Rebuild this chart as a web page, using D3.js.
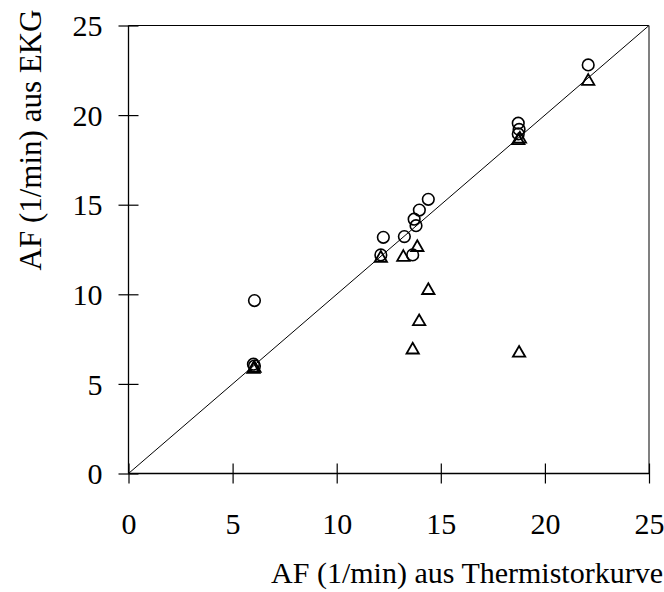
<!DOCTYPE html>
<html>
<head>
<meta charset="utf-8">
<script src="https://cdn.jsdelivr.net/npm/d3@7"></script>
<style>
  body { margin: 0; background: #fff; }
  svg { display: block; }
  text { font-family: "Liberation Serif", "Times New Roman", serif; fill: #000; }
</style>
</head>
<body>
<svg id="chart" width="664" height="592"></svg>
<script>
// ---- data ----
const xTicks = [0, 5, 10, 15, 20, 25];
const yTicks = [0, 5, 10, 15, 20, 25];
const xTitle = "AF (1/min) aus Thermistorkurve";
const yTitle = "AF (1/min) aus EKG";

// circles series
const circleX = [6.0, 6.05, 6.05, 12.12, 12.24, 13.25, 13.65, 13.72, 13.81, 13.97, 14.4, 18.72, 18.76, 18.72, 22.08];
const circleY = [6.1, 6.0, 9.65, 12.2, 13.18, 13.22, 12.2, 14.19, 13.83, 14.7, 15.3, 19.55, 19.2, 18.95, 22.8];

// triangles series
const triX = [6.0, 6.05, 12.12, 13.2, 13.87, 14.4, 13.96, 13.65, 18.76, 18.72, 18.8, 22.08];
const triY = [5.9, 5.95, 12.1, 12.15, 12.7, 10.3, 8.56, 6.98, 6.8, 18.66, 18.75, 21.97];

// identity line
const lineX = [0, 25];
const lineY = [0, 25];

// ---- chart ----
const svg = d3.select("#chart");
const mLeft = 128.5, mRight = 649, mTop = 25.5, mBottom = 473.5;
const x = d3.scaleLinear().domain([0, 25]).range([mLeft, mRight]);
const y = d3.scaleLinear().domain([0, 25]).range([mBottom, mTop]);

// frame: top (black) and right (grey)
svg.append("line").attr("x1", mLeft).attr("x2", mRight).attr("y1", mTop).attr("y2", mTop)
  .attr("stroke", "#000").attr("stroke-width", 1.2);
svg.append("line").attr("x1", mRight).attr("x2", mRight).attr("y1", mTop).attr("y2", mBottom)
  .attr("stroke", "#808080").attr("stroke-width", 2);

// x axis
const gx = svg.append("g").attr("transform", `translate(0,${mBottom})`)
  .call(d3.axisBottom(x).tickValues(xTicks).tickSize(10).tickFormat(d3.format("d")));
gx.select(".domain").attr("stroke", "#000").attr("stroke-width", 1.3).attr("d", `M${mLeft},0H${mRight}`);
gx.selectAll(".tick line").attr("y1", -10).attr("y2", 10).attr("stroke", "#000").attr("stroke-width", 1.2);
gx.selectAll(".tick text").attr("y", 60).attr("dy", 0)
  .style("font-family", "'Liberation Serif', serif").style("font-size", "30px").attr("fill", "#000");

// y axis
const gy = svg.append("g").attr("transform", `translate(${mLeft},0)`)
  .call(d3.axisLeft(y).tickValues(yTicks).tickSize(10).tickFormat(d3.format("d")));
gy.select(".domain").attr("stroke", "#000").attr("stroke-width", 1.3).attr("d", `M0,${mBottom}V${mTop}`);
gy.selectAll(".tick line").attr("x1", -10).attr("x2", 10).attr("stroke", "#000").attr("stroke-width", 1.2);
gy.selectAll(".tick text").attr("x", -26).attr("dy", "0.34em")
  .style("font-family", "'Liberation Serif', serif").style("font-size", "30px").attr("fill", "#000");

// identity line
svg.append("path")
  .datum(lineX.map((d, i) => [d, lineY[i]]))
  .attr("d", d3.line().x(d => x(d[0])).y(d => y(d[1])))
  .attr("stroke", "#000").attr("stroke-width", 1).attr("fill", "none");

// triangles
const tri = d3.symbol().type(d3.symbolTriangle).size(66);
svg.append("g").selectAll("path")
  .data(triX.map((d, i) => [d, triY[i]]))
  .join("path")
  .attr("d", tri)
  .attr("transform", d => `translate(${x(d[0])},${y(d[1]) + 1.5})`)
  .attr("fill", "none").attr("stroke", "#000").attr("stroke-width", 1.8);

// circles
svg.append("g").selectAll("circle")
  .data(circleX.map((d, i) => [d, circleY[i]]))
  .join("circle")
  .attr("cx", d => x(d[0])).attr("cy", d => y(d[1])).attr("r", 5.8)
  .attr("fill", "none").attr("stroke", "#000").attr("stroke-width", 1.6);

// titles
svg.append("text").attr("x", 663).attr("y", 583).attr("text-anchor", "end")
  .style("font-size", "30px").text(xTitle);
svg.append("text").attr("transform", "translate(41,140) rotate(-90)").attr("text-anchor", "middle")
  .style("font-size", "31px").text(yTitle);
</script>
</body>
</html>
